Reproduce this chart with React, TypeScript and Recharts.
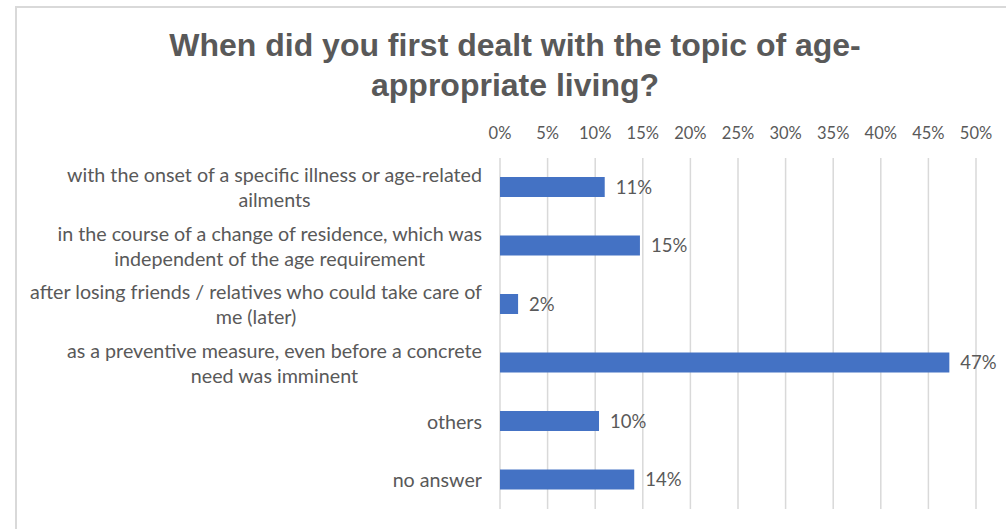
import React from 'react';
import { BarChart, Bar, XAxis, YAxis, CartesianGrid, LabelList } from 'recharts';

const title = 'When did you first dealt with the topic of age-appropriate living?';

const categories = [
  'with the onset of a specific illness or age-related\nailments',
  'in the course of a change of residence, which was\nindependent of the age requirement',
  'after losing friends / relatives who could take care of\nme (later)',
  'as a preventive measure, even before a concrete\nneed was imminent',
  'others',
  'no answer',
];
const shares = [11.0, 14.7, 1.9, 47.2, 10.4, 14.1];
const xTicks = [0, 5, 10, 15, 20, 25, 30, 35, 40, 45, 50];

const data = categories.map((c, i) => ({ category: c, share: shares[i] }));

const textColor = '#595959';
const font = 'Lato, "Open Sans", sans-serif';

function CategoryTick(props: any) {
  const { y, payload } = props;
  const lines = String(payload.value).split('\n');
  return (
    <foreignObject x={0} y={y - 30} width={482} height={60}>
      <div
        style={{
          height: 60,
          display: 'flex',
          alignItems: 'center',
          justifyContent: 'flex-end',
        }}
      >
        <div
          style={{
            textAlign: 'center',
            fontFamily: font,
            fontSize: 19.7,
            lineHeight: '25px',
            color: textColor,
            whiteSpace: 'nowrap',
          }}
        >
          {lines.map((l, i) => (
            <div key={i}>{l}</div>
          ))}
        </div>
      </div>
    </foreignObject>
  );
}

export default function App() {
  return (
    <div
      style={{
        position: 'fixed',
        left: 0,
        top: 0,
        width: 1006,
        height: 529,
        overflow: 'hidden',
        background: '#fff',
      }}
    >
      <div
        style={{
          position: 'absolute',
          left: 15,
          top: 6,
          width: 1010,
          height: 560,
          border: '2px solid #d9d9d9',
        }}
      />
      <div
        style={{
          position: 'absolute',
          left: 115,
          top: 25,
          width: 800,
          padding: '0 20px',
          boxSizing: 'border-box',
          textAlign: 'center',
          fontFamily: '"Liberation Sans", Arial, sans-serif',
          fontWeight: 'bold',
          fontSize: 32,
          lineHeight: '40px',
          color: textColor,
        }}
      >
        {title}
      </div>
      <div style={{ position: 'absolute', left: 0, top: 0 }}>
        <BarChart
          width={1006}
          height={529}
          data={data}
          layout="vertical"
          margin={{ top: 128, right: 30, bottom: 20, left: 0 }}
          barSize={20}
        >
          <CartesianGrid horizontal={false} stroke="#d9d9d9" strokeWidth={1.5} />
          <XAxis
            type="number"
            orientation="top"
            domain={[0, 50]}
            ticks={xTicks}
            interval={0}
            tickFormatter={(v) => `${v}%`}
            axisLine={false}
            tickLine={false}
            tickSize={0}
            tickMargin={19}
            height={30}
            tick={{ fill: textColor, fontSize: 16.5, fontFamily: font }}
          />
          <YAxis
            type="category"
            dataKey="category"
            width={500}
            axisLine={false}
            tickLine={false}
            interval={0}
            tick={<CategoryTick />}
          />
          <Bar dataKey="share" fill="#4472c4" isAnimationActive={false}>
            <LabelList
              dataKey="share"
              position="right"
              offset={11}
              formatter={(v: any) => `${Math.round(Number(v))}%`}
              style={{ fill: textColor, fontSize: 18.5, fontFamily: font }}
            />
          </Bar>
        </BarChart>
      </div>
    </div>
  );
}
